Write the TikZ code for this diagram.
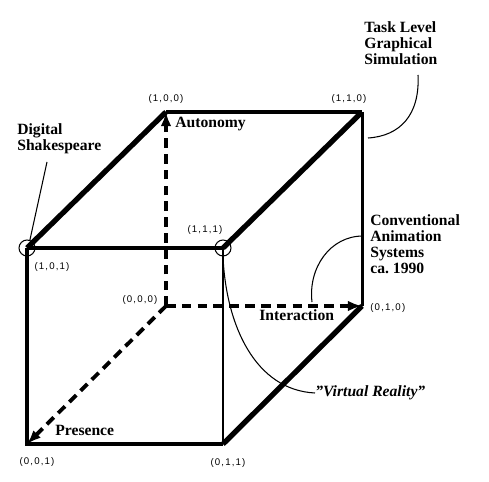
\documentclass[tikz,border=0pt]{standalone}
\usepackage{fontspec}
\setmainfont{Liberation Serif}
\newfontfamily\coordfont[LetterSpace=12]{Liberation Sans}
\usetikzlibrary{arrows.meta,positioning}

\begin{document}
\begin{tikzpicture}[x=0.02cm,y=-0.02cm,>={Latex[length=8pt,width=6pt]},
  edge/.style={line width=2.3pt,line cap=square},
  thinedge/.style={line width=1.7pt,line cap=square},
  fatedge/.style={line width=3pt,line cap=square},
  axis/.style={line width=2.2pt,dash pattern=on 5.5pt off 3.5pt,->},
  callout/.style={line width=0.6pt},
  ring/.style={circle,draw,line width=0.6pt,minimum size=16*0.02cm,inner sep=0pt},
  caption/.style={font=\fontsize{8.9}{9.1}\selectfont\bfseries,align=left,inner sep=0pt,anchor=west},
  corner/.style={font=\coordfont\fontsize{5.5}{6}\selectfont,inner sep=0pt}]
\useasboundingbox (0,0) rectangle (489,482);
% cube corners
\coordinate (p000) at (166,306); \coordinate (p100) at (166,112);
\coordinate (p110) at (362,112); \coordinate (p010) at (362,306);
\coordinate (p101) at (27,248);  \coordinate (p111) at (223,248);
\coordinate (p001) at (27,444);  \coordinate (p011) at (223,444);
% hidden axes
\draw[axis] (p000)--(p100);
\draw[axis] (p000)--(p010);
\draw[axis] (p000)--(p001);
% visible edges
\draw[edge] (p101)--(p111); \draw[edge] (p101)--(p001)--(p011);
\draw[thinedge] (p111)--(p011);
\draw[edge] (p100)--(p110); \draw[thinedge] (p110)--(p010);
\draw[fatedge] (p101)--(p100); \draw[fatedge] (p111)--(p110);
\draw[fatedge] (p011)--(p010);
\node[ring] (c101) at (p101) {}; \node[ring] (c111) at (p111) {};
% corner labels
\node[corner] (l100) at (166,99) {(1,0,0)};
\node[corner] (l110) at (349,99) {(1,1,0)};
\node[corner] (l111) at (205,230) {(1,1,1)};
\node[corner] (l101) at (52,267) {(1,0,1)};
\node[corner] (l000) at (140,300) {(0,0,0)};
\node[corner,anchor=west] (l010) at (370,308) {(0,1,0)};
\node[corner] (l001) at (37,462) {(0,0,1)};
\node[corner] (l011) at (228,463) {(0,1,1)};
% axis names
\node[caption] (autonomy) at (175,124) {Autonomy};
\node[caption] (interaction) at (259,315) {Interaction};
\node[caption] (presence) at (55,430) {Presence};
% callouts
\node[caption] (task) at (364,43) {Task Level\\Graphical\\Simulation};
\node[caption] (shakespeare) at (17,138.5) {Digital\\Shakespeare};
\node[caption] (conventional) at (370,244) {Conventional\\Animation\\Systems\\ca.\ 1990};
\node[caption,font=\fontsize{8.9}{9.1}\selectfont\bfseries\itshape] (virtual) at (315,393) {\symbol{34}Virtual Reality\symbol{34}};
\coordinate (taskend) at (418,75); \coordinate (tasktip) at (368,138);
\draw[callout] (taskend) .. controls (420,115) and (400,136) .. (tasktip);
\coordinate (shakeend) at (47,162);
\draw[callout] (shakeend) -- (c101.70);
\coordinate (convend) at (363,236); \coordinate (convtip) at (312,302);
\draw[callout] (convend) .. controls (330,236) and (308,268) .. (convtip);
\draw[callout] (c111.south) .. controls (226,325) and (255,390) .. (virtual.west);
\end{tikzpicture}
\end{document}
